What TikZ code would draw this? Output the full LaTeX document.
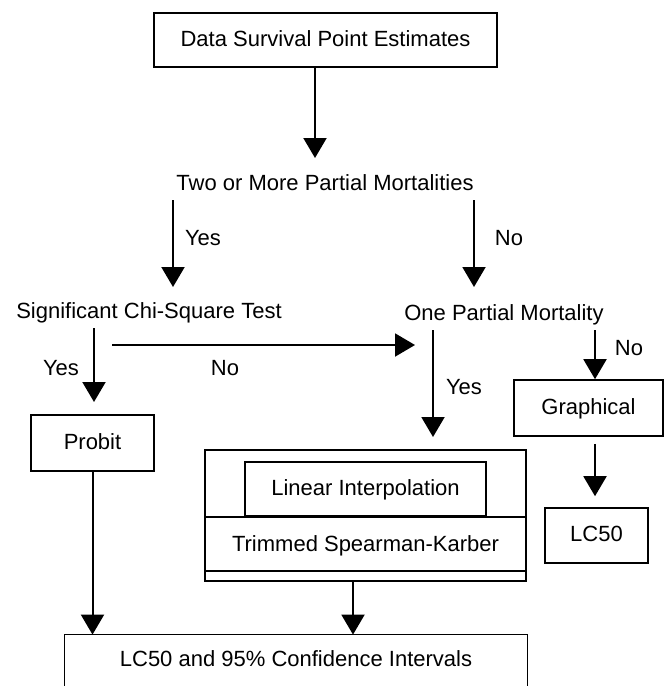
\documentclass[tikz,border=0pt]{standalone}
\usepackage{fontspec}
\setmainfont{Liberation Sans}
\usetikzlibrary{arrows.meta}
\tikzset{
	box/.style={draw, line width=0.8pt, inner sep=0pt, text height=8pt, text depth=2pt},
	lbl/.style={inner xsep=0pt, inner ysep=3pt, text height=8pt, text depth=2pt},
	arr/.style={line width=1pt, -{Triangle[length=10pt,width=11.5pt]}},
}
\begin{document}
\begin{tikzpicture}[x=0.5pt,y=-0.5pt,font=\fontsize{11}{13}\selectfont]
		\useasboundingbox (0,0) rectangle (665,686);
		% boxes
		\node [box, minimum width=171.5pt, minimum height=27pt] (data) at (325.5,40) {Data Survival Point Estimates};
		\node [box, minimum width=61.5pt, minimum height=28pt] (probit) at (92.5,443) {Probit};
		\node [box, minimum width=74.5pt, minimum height=28pt] (graph) at (588.5,408) {Graphical};
		\node [box, minimum width=51.5pt, minimum height=27.5pt] (lc) at (596.5,535.5) {LC50};
		\node [box, minimum width=160.5pt, minimum height=65.5pt] (mid) at (365.5,515.5) {};
		\node [box, minimum width=120.5pt, minimum height=27pt] (lin) at (365.5,489) {Linear Interpolation};
		\node [lbl] (trim) at (365.5,545) {Trimmed Spearman-Karber};
		\draw [line width=0.8pt] (mid.west |- lin.south) -- (mid.east |- lin.south);
		\draw [line width=0.8pt] (205,571) -- (526,571);
		\node [inner sep=0pt, minimum width=231pt, minimum height=25.5pt, text height=8pt, text depth=2pt] (bot) at (296,660.5) {LC50 and 95\% Confidence Intervals};
		\draw [line width=0.8pt] (bot.south west) -- (bot.north west) -- (bot.north east) -- (bot.south east);
		% questions
		\node [lbl] (two) at (325,184) {Two or More Partial Mortalities};
		\node [lbl] (sig) at (149,312) {Significant Chi-Square Test};
		\node [lbl] (one) at (504,314) {One Partial Mortality};
		% arrow ends
		\coordinate (t1) at (315,158);
		\coordinate (t2) at (173,287);
		\coordinate (t3) at (474,287);
		\coordinate (t4) at (94,402);
		\coordinate (h1) at (112,345);
		\coordinate (h2) at (415,345);
		\coordinate (t6) at (433,437);
		\coordinate (t7) at (595,380);
		\coordinate (t10) at (353,600);
		% arrows
		\draw [arr] (data.south -| t1) -- (t1);
		\draw [arr] (two.south -| t2) -- (t2);
		\draw [arr] (two.south -| t3) -- (t3);
		\draw [arr] (sig.south -| t4) -- (t4);
		\draw [arr] (h1) -- (h2);
		\draw [arr] (one.south -| t6) -- (t6);
		\draw [arr] (one.south -| t7) -- (graph.north -| t7);
		\draw [arr, shorten <=3.5pt, shorten >=5.5pt] (graph.south -| t7) -- (lc.north -| t7);
		\draw [arr] (probit.south) -- (probit.south |- bot.north);
		\draw [arr] (mid.south -| t10) -- (bot.north -| t10);
		% yes / no
		\node [lbl] (yes1) at (203,239) {Yes};
		\node [lbl] (no1) at (509,239) {No};
		\node [lbl] (yes2) at (61,369) {Yes};
		\node [lbl] (no2) at (225,369) {No};
		\node [lbl] (yes3) at (464,388) {Yes};
		\node [lbl] (no3) at (629,349) {No};
\end{tikzpicture}
\end{document}
